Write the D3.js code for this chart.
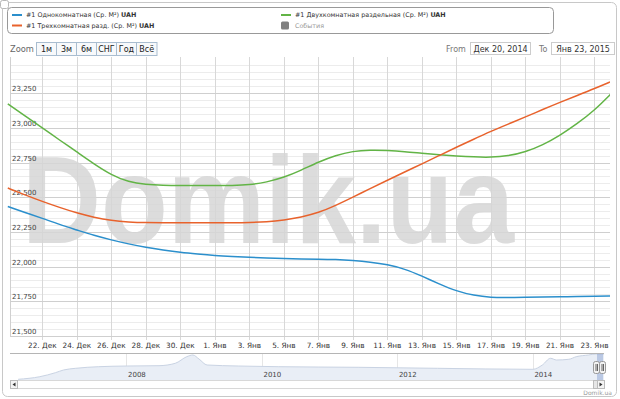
<!DOCTYPE html>
<html><head><meta charset="utf-8">
<script src="https://cdn.jsdelivr.net/npm/d3@7"></script>
<style>body{margin:0;background:#fff}svg{display:block;font-family:"DejaVu Sans",sans-serif}</style>
</head><body><svg id="c" width="620" height="399"></svg>
<script>
// ---- data ----
const startDate = "2014-12-20";
const dayCount = 36; // Dec 20 .. Jan 24
const seriesNames = ["#1 Однокомнатная (Ср. М²)", "#1 Трехкомнатная разд. (Ср. М²)", "#1 Двухкомнатная раздельная (Ср. М²)"];
const seriesColors = ["#2b8fcc", "#e8622c", "#62b446"];
const oneRoom = [22433,22390,22348,22303,22264,22224,22192,22163,22139,22120,22103,22091,22080,22073,22067,22062,22058,22055,22054,22051,22044,22033,22015,21983,21932,21875,21824,21792,21777,21777,21779,21781,21782,21785,21787,21788];
const threeRoom = [22566,22516,22469,22426,22386,22354,22332,22321,22316,22316,22316,22316,22316,22316,22317,22322,22335,22356,22388,22440,22500,22562,22622,22682,22740,22800,22860,22918,22975,23027,23078,23132,23184,23233,23282,23335];
const twoRoom = [23172,23085,22999,22912,22826,22739,22660,22609,22592,22586,22584,22584,22584,22584,22588,22608,22642,22694,22754,22802,22832,22840,22837,22829,22816,22805,22797,22790,22787,22797,22826,22876,22945,23030,23125,23250];
const yTicks = [21500,21750,22000,22250,22500,22750,23000,23250];
const monthNames = ["Янв","Фев","Мар","Апр","Май","Июн","Июл","Авг","Сен","Окт","Ноя","Дек"];
const zoomButtons = ["1м","3м","6м","СНГ","Год","Всё"];
const navYears = [2006.40,2006.72,2006.95,2007.07,2007.25,2007.59,2008.01,2008.48,2008.72,2008.89,2008.98,2009.07,2009.19,2009.65,2010.24,2011.42,2012.59,2014.0,2014.14,2014.26,2014.35,2014.53,2014.64,2014.82,2014.93,2015.05];
const navValues = [10100,11400,13400,14750,15600,16400,16750,16900,18100,21400,22250,20250,17250,16750,16400,16100,15600,15100,17250,20600,19750,20100,21400,22250,22750,22750];
const navYearTicks = [2008,2010,2012,2014];

// ---- setup ----
const svg = d3.select("#c");
const day = 864e5;
const t0 = new Date(2014, 11, 20);
const dates = d3.range(dayCount).map(i => new Date(t0.getTime() + i * day));
const x = d3.scaleTime().domain([t0, new Date(t0.getTime() + 34.9 * day)]).range([7.8, 610]);
const y = d3.scaleLinear().domain([21500, 23500]).range([336, 58.4]);
const plotL = 6, plotR = 610, plotT = 57, plotB = 336;

// outer border
svg.append("rect").attr("x",2.5).attr("y",2.5).attr("width",614).attr("height",394).attr("rx",5)
  .attr("fill","#fff").attr("stroke","#c8c8c8");
svg.append("rect").attr("x",0.5).attr("y",0.5).attr("width",8).attr("height",8).attr("rx",2)
  .attr("fill","#fff").attr("stroke","#b8b8b8");

// grid: minor horizontal
const minor = d3.range(21500, 23501, 50).filter(v => v % 250 !== 0);
svg.append("g").selectAll("line").data(minor).join("line")
  .attr("x1",10).attr("x2",plotR).attr("y1",d=>Math.round(y(d))+0.5).attr("y2",d=>Math.round(y(d))+0.5)
  .attr("stroke","#ececec");
// vertical grid
const xTicks = d3.range(2, 35, 2).map(i => new Date(t0.getTime() + i * day));
svg.append("g").selectAll("line").data(xTicks).join("line")
  .attr("x1",d=>Math.round(x(d))+0.5).attr("x2",d=>Math.round(x(d))+0.5).attr("y1",plotT).attr("y2",plotB+4)
  .attr("stroke","#d8d8d8");
svg.append("line").attr("x1",10.5).attr("x2",10.5).attr("y1",plotT).attr("y2",plotB).attr("stroke","#d0d0d0");
// major horizontal
svg.append("g").selectAll("line").data(yTicks).join("line")
  .attr("x1",10).attr("x2",plotR).attr("y1",d=>Math.round(y(d))+0.5).attr("y2",d=>Math.round(y(d))+0.5)
  .attr("stroke","#cfcfcf");

// watermark
svg.append("text").attr("x",22).attr("y",243).attr("textLength",492).attr("lengthAdjust","spacingAndGlyphs")
  .attr("font-family","Liberation Sans, Arial, sans-serif").attr("font-weight","bold").attr("font-size",124)
  .attr("fill","#d6d6d6").attr("fill-opacity",0.85).text("Domik.ua");

// y labels
svg.append("g").selectAll("text").data(yTicks).join("text")
  .attr("x",12).attr("y",d=>y(d)-2).attr("font-size",7).attr("fill","#444")
  .text(d=>d3.format(",")(d));

// x axis labels
svg.append("g").selectAll("text").data(xTicks).join("text")
  .attr("x",d=>x(d)).attr("y",348).attr("text-anchor","middle").attr("font-size",7.3).attr("fill","#333")
  .text(d=>d.getDate()+". "+monthNames[d.getMonth()]);

// lines
svg.append("clipPath").attr("id","pc").append("rect").attr("x",plotL).attr("y",plotT).attr("width",plotR-plotL).attr("height",plotB-plotT);
const line = d3.line().x((d,i)=>x(dates[i])).y(d=>y(d)).curve(d3.curveBasis);
const g = svg.append("g").attr("clip-path","url(#pc)");
[oneRoom, twoRoom, threeRoom].forEach((s, k) => {
  const col = [seriesColors[0], seriesColors[2], seriesColors[1]][k];
  g.append("path").attr("d", line(s)).attr("fill","none").attr("stroke",col).attr("stroke-width",1.5);
});

// legend
const lg = svg.append("g");
lg.append("rect").attr("x",7.5).attr("y",7.5).attr("width",546).attr("height",26).attr("rx",4)
  .attr("fill","#fff").attr("stroke","#999");
const legendItems = [
  {n:seriesNames[0], c:seriesColors[0], x:12, y:15},
  {n:seriesNames[1], c:seriesColors[1], x:12, y:25.5},
  {n:seriesNames[2], c:seriesColors[2], x:281, y:15}
];
legendItems.forEach(it => {
  lg.append("line").attr("x1",it.x).attr("x2",it.x+10).attr("y1",it.y).attr("y2",it.y).attr("stroke",it.c).attr("stroke-width",2);
  const t = lg.append("text").attr("x",it.x+14).attr("y",it.y+2.3).attr("font-size",6.4).attr("fill","#333");
  t.append("tspan").text(it.n+" ");
  t.append("tspan").attr("font-weight","bold").text("UAH");
});
lg.append("rect").attr("x",281).attr("y",21.5).attr("width",8).attr("height",8).attr("rx",1.5).attr("fill","#808080");
lg.append("text").attr("x",295).attr("y",27.8).attr("font-size",6.4).attr("fill","#999").text("События");

// zoom buttons
svg.append("text").attr("x",10).attr("y",51.5).attr("font-size",8.3).attr("fill","#666").text("Zoom");
const bx = [36.5,56.5,76.5,96.5,116.5,136.5,157];
zoomButtons.forEach((b,i) => {
  svg.append("rect").attr("x",bx[i]).attr("y",42.5).attr("width",bx[i+1]-bx[i]).attr("height",13)
    .attr("fill","#f7f9fb").attr("stroke","#a9bdd0");
  svg.append("text").attr("x",(bx[i]+bx[i+1])/2).attr("y",52.3).attr("text-anchor","middle")
    .attr("font-size",8).attr("fill","#222").text(b);
});
// from / to
svg.append("text").attr("x",446).attr("y",52).attr("font-size",8).attr("fill","#777").text("From");
svg.append("rect").attr("x",470.5).attr("y",42.5).attr("width",60).attr("height",12).attr("fill","#fff").attr("stroke","#ccc");
svg.append("text").attr("x",500.5).attr("y",51.8).attr("text-anchor","middle").attr("font-size",8).attr("fill","#333").text("Дек 20, 2014");
svg.append("text").attr("x",539).attr("y",52).attr("font-size",8).attr("fill","#777").text("To");
svg.append("rect").attr("x",551.5).attr("y",42.5).attr("width",63).attr("height",12).attr("fill","#fff").attr("stroke","#ccc");
svg.append("text").attr("x",583).attr("y",51.8).attr("text-anchor","middle").attr("font-size",8).attr("fill","#333").text("Янв 23, 2015");

// navigator
const nx = d3.scaleLinear().domain([2006.28, 2015.05]).range([10, 604]);
const ny = d3.scaleLinear().domain([10000, 23000]).range([379.5, 353.5]);
const nav = svg.append("g");
nav.selectAll("line.ny").data(navYearTicks).join("line")
  .attr("x1",d=>Math.round(nx(d))+0.5).attr("x2",d=>Math.round(nx(d))+0.5).attr("y1",353).attr("y2",380)
  .attr("stroke","#e6e6e6");
const area = d3.area().x((d,i)=>nx(navYears[i])).y0(380).y1(d=>ny(d)).curve(d3.curveMonotoneX);
const nline = d3.line().x((d,i)=>nx(navYears[i])).y(d=>ny(d)).curve(d3.curveMonotoneX);
nav.append("path").attr("d",area(navValues)).attr("fill","#e9eef6");
nav.append("path").attr("d",nline(navValues)).attr("fill","none").attr("stroke","#c9d3e3").attr("stroke-width",1);
nav.selectAll("text").data(navYearTicks).join("text")
  .attr("x",d=>nx(d)+1.5).attr("y",377).attr("font-size",7).attr("fill","#444").text(d=>d);
nav.append("line").attr("x1",10).attr("x2",604).attr("y1",353.5).attr("y2",353.5).attr("stroke","#b5b5b5");
// selection mask
nav.append("rect").attr("x",597).attr("y",354).attr("width",6).attr("height",26).attr("fill","rgba(102,133,194,0.35)");
[593.5,599.5].forEach(hx => {
  nav.append("rect").attr("x",hx).attr("y",361.5).attr("width",6).attr("height",12).attr("rx",2)
    .attr("fill","#f2f2f2").attr("stroke","#999");
  nav.append("line").attr("x1",hx+2.5).attr("x2",hx+2.5).attr("y1",364).attr("y2",371).attr("stroke","#666");
  nav.append("line").attr("x1",hx+4).attr("x2",hx+4).attr("y1",364).attr("y2",371).attr("stroke","#666");
});
// scrollbar
nav.append("rect").attr("x",10.5).attr("y",380.5).attr("width",594).attr("height",8).attr("fill","#fff").attr("stroke","#d8d8d8");
nav.append("rect").attr("x",10.5).attr("y",380.5).attr("width",7).attr("height",8).attr("fill","#f4f4f4").attr("stroke","#bbb");
nav.append("path").attr("d","M15.5,382.5 L12.5,384.5 L15.5,386.5 Z").attr("fill","#333");
nav.append("rect").attr("x",597.5).attr("y",380.5).attr("width",7).attr("height",8).attr("fill","#f4f4f4").attr("stroke","#bbb");
nav.append("path").attr("d","M599.5,382.5 L602.5,384.5 L599.5,386.5 Z").attr("fill","#333");
nav.append("rect").attr("x",593.5).attr("y",380.5).attr("width",4).attr("height",8).attr("fill","#e6e6e6").attr("stroke","#bbb");

// credit
svg.append("text").attr("x",612).attr("y",395).attr("text-anchor","end").attr("font-size",6).attr("fill","#999").text("Domik.ua");
</script></body></html>
